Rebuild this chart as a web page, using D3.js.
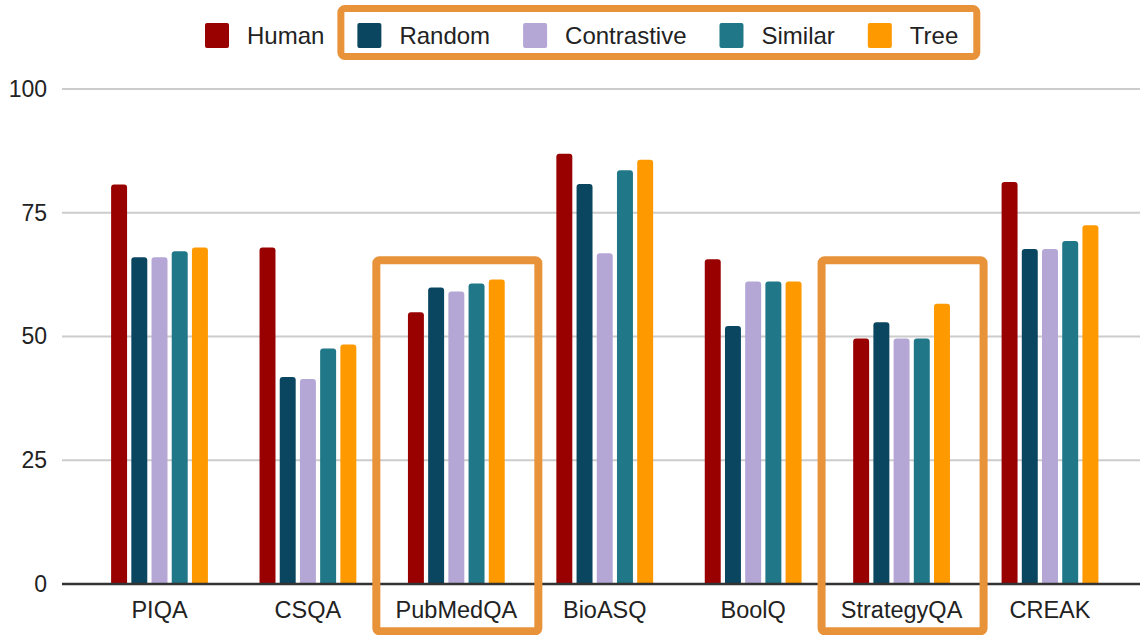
<!DOCTYPE html>
<html><head><meta charset="utf-8">
<script src="https://cdn.jsdelivr.net/npm/d3@7"></script>
<style>
html,body{margin:0;padding:0;background:#fff;}
svg{display:block;font-family:"Liberation Sans",Arial,sans-serif;}
</style></head>
<body>
<svg id="chart" width="1140" height="635"></svg>
<script>
const categories = ["PIQA","CSQA","PubMedQA","BioASQ","BoolQ","StrategyQA","CREAK"];
const seriesNames = ["Human","Random","Contrastive","Similar","Tree"];
const human       = [80.7, 68.0, 54.9, 86.9, 65.6, 49.6, 81.2];
const random      = [66.0, 41.8, 59.9, 80.8, 52.1, 52.9, 67.7];
const contrastive = [66.0, 41.4, 59.1, 66.8, 61.1, 49.6, 67.7];
const similar     = [67.2, 47.6, 60.7, 83.6, 61.1, 49.6, 69.3];
const tree        = [68.0, 48.4, 61.5, 85.7, 61.1, 56.6, 72.5];
const yTicks = [0, 25, 50, 75, 100];
const highlighted = ["PubMedQA","StrategyQA"];
const highlightedLegend = ["Random","Contrastive","Similar","Tree"];

const seriesValues = [human, random, contrastive, similar, tree];
const colors = ["#990000","#0b4661","#b4a7d6","#1f7787","#ff9900"];
const boxColor = "#e8923a";

const svg = d3.select("#chart");
const plotLeft = 62, plotRight = 1140;

const y = d3.scaleLinear().domain([0, 100]).range([584, 89]);
const x = d3.scaleBand().domain(categories).range([85.3, 1124.2]).padding(0);
const xs = d3.scaleBand().domain(seriesNames).range([-48.4, 48.4]).paddingInner(0.21);
const color = d3.scaleOrdinal().domain(seriesNames).range(colors);

// gridlines
svg.append("g").selectAll("line").data(yTicks.filter(d => d > 0)).join("line")
  .attr("x1", plotLeft).attr("x2", plotRight)
  .attr("y1", d => y(d)).attr("y2", d => y(d))
  .attr("stroke", "#cccccc").attr("stroke-width", 2);

// y axis labels
const yAxis = d3.axisLeft(y).tickValues(yTicks).tickSize(0).tickPadding(0);
const gy = svg.append("g").attr("transform", "translate(47,0)").call(yAxis);
gy.select(".domain").remove();
gy.selectAll("text").attr("font-size", 23).attr("fill", "#222")
  .attr("font-family", "'Liberation Sans',Arial,sans-serif");

// bars with rounded tops
function topRounded(x0, y0, w, h, r) {
  r = Math.min(r, w / 2, h);
  return `M${x0},${y0 + h}V${y0 + r}Q${x0},${y0} ${x0 + r},${y0}H${x0 + w - r}Q${x0 + w},${y0} ${x0 + w},${y0 + r}V${y0 + h}Z`;
}
const barData = [];
categories.forEach((c, i) => {
  seriesNames.forEach((s, j) => barData.push({c, s, v: seriesValues[j][i]}));
});
svg.append("g").selectAll("path").data(barData).join("path")
  .attr("d", d => {
    const bx = x(d.c) + x.bandwidth() / 2 + xs(d.s);
    return topRounded(bx, y(d.v), xs.bandwidth(), y(0) - y(d.v), 3);
  })
  .attr("fill", d => color(d.s));

// x axis
const xAxis = d3.axisBottom(x).tickSize(0).tickPadding(17);
const gx = svg.append("g").attr("transform", `translate(0,${y(0)})`).call(xAxis);
gx.select(".domain").remove();
gx.selectAll("text").attr("font-size", 23.5).attr("fill", "#222")
  .attr("font-family", "'Liberation Sans',Arial,sans-serif");
svg.append("line").attr("x1", plotLeft).attr("x2", plotRight)
  .attr("y1", y(0)).attr("y2", y(0)).attr("stroke", "#333").attr("stroke-width", 2.5);

// highlight boxes
svg.append("g").selectAll("rect").data(highlighted).join("rect")
  .attr("x", d => x(d) + x.bandwidth() / 2 + 1 - 81)
  .attr("y", 260.3).attr("width", 162).attr("height", 371)
  .attr("rx", 3).attr("fill", "none").attr("stroke", boxColor).attr("stroke-width", 8);

// legend
const lg = svg.append("g");
let lx = 205;
const legendPos = {};
seriesNames.forEach((s, i) => {
  const g = lg.append("g");
  g.append("rect").attr("x", lx).attr("y", 23).attr("width", 24).attr("height", 25)
    .attr("rx", 2).attr("fill", color(s));
  const t = g.append("text").attr("x", lx + 42).attr("y", 44).attr("font-size", 24)
    .attr("fill", "#222").text(s);
  const tw = t.node().getComputedTextLength();
  legendPos[s] = {start: lx, end: lx + 42 + tw};
  lx = lx + 42 + tw + 33;
});
const first = legendPos[highlightedLegend[0]], last = legendPos[highlightedLegend[highlightedLegend.length - 1]];
lg.append("rect")
  .attr("x", first.start - 16.5).attr("y", 8.5)
  .attr("width", (last.end + 18.5) - (first.start - 16.5)).attr("height", 48)
  .attr("rx", 4).attr("fill", "none").attr("stroke", boxColor).attr("stroke-width", 7);
</script>
</body></html>
